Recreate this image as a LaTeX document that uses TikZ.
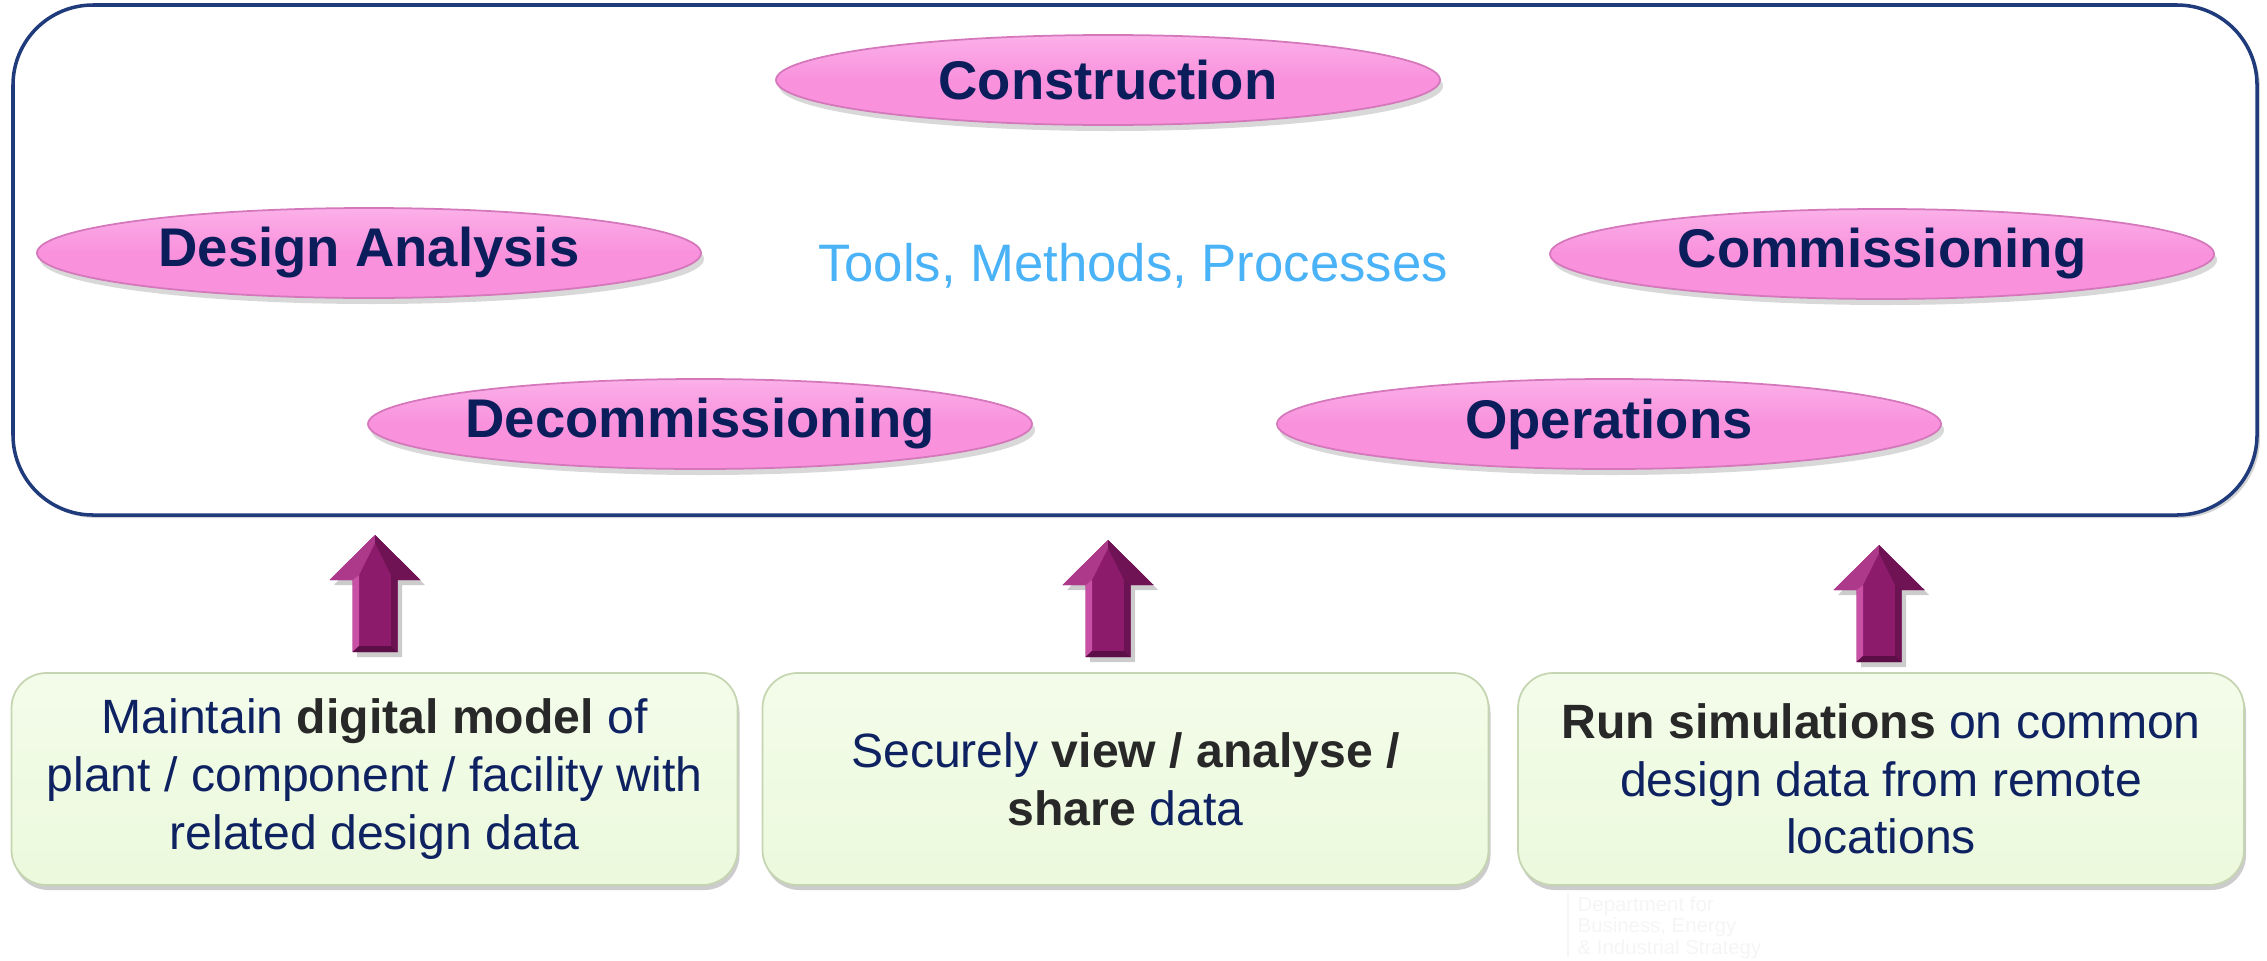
\documentclass[tikz,border=0pt]{standalone}
\usepackage{fontspec}
\setmainfont{Liberation Sans}
\usetikzlibrary{shapes.geometric,shadows}

\definecolor{framenavy}{HTML}{1F3B7B}
\definecolor{stagepink}{HTML}{F991DD}
\definecolor{stagehigh}{HTML}{FBB0E8}
\definecolor{stagerim}{HTML}{D577BB}
\definecolor{stagetext}{HTML}{0B1E5B}
\definecolor{toolblue}{HTML}{4AB2F7}
\definecolor{taskfill}{HTML}{ECF9DC}
\definecolor{taskhigh}{HTML}{F3FCEA}
\definecolor{taskrim}{HTML}{C6D5B1}
\definecolor{tasktext}{HTML}{0E2262}
\definecolor{taskbold}{HTML}{282828}
\definecolor{liftpurple}{HTML}{8C1B6B}
\definecolor{liftlight}{HTML}{C851A6}
\definecolor{liftdark}{HTML}{5C0E47}

\newcommand\taskkey[1]{{\bfseries\color{taskbold}#1}}

\begin{document}
\begin{tikzpicture}[
    stage/.style={ellipse, inner sep=0pt, minimum width=6.64cm, minimum height=0.90cm,
      draw=stagerim, line width=0.5pt,
      top color=stagehigh, bottom color=stagepink, middle color=stagepink,
      drop shadow={opacity=0.3, shadow xshift=0.03cm, shadow yshift=-0.06cm},
      text=stagetext, font=\fontsize{15.5}{18}\selectfont\bfseries},
    task/.style={rectangle, rounded corners=0.35cm, minimum width=7.26cm, minimum height=2.12cm,
      draw=taskrim, line width=0.5pt, top color=taskhigh, bottom color=taskfill,
      drop shadow={opacity=0.4, shadow xshift=0.02cm, shadow yshift=-0.05cm},
      align=center, text=tasktext, font=\fontsize{13.7}{16.4}\selectfont}
  ]
  \useasboundingbox (0,0) rectangle (22.67,9.60);

  % Department mark under the right box
  \draw [black!4, line width=0.4pt] (15.68,0.67) -- (15.68,0.03);%
  \node [anchor=north west, inner sep=0pt, align=left, text=black!4,
    font=\fontsize{5.8}{6.1}\selectfont] (dept) at (15.77,0.64)
    {Department for\\Business, Energy\\\& Industrial Strategy};%

  % Drawing the life cycle frame
  \draw [framenavy, line width=1pt, rounded corners=0.8cm, fill=white,
    drop shadow={opacity=0.35, shadow xshift=0.03cm, shadow yshift=-0.03cm}]
    (0.13,4.45) rectangle (22.57,9.55);%

  % Life cycle stages
  \node [stage] (construction) at (11.08,8.80) {Construction};%
  \node [stage] (design) at (3.69,7.07) {Design Analysis};%
  \node [stage] (commissioning) at (18.82,7.06) {Commissioning};%
  \node [stage] (decommissioning) at (7.00,5.36) {Decommissioning};%
  \node [stage] (operations) at (16.09,5.36) {Operations};%

  % Marking the middle text
  \node [text=toolblue, font=\fontsize{15}{18}\selectfont] (tools) at (11.33,6.94)
    {Tools, Methods, Processes};%

  % Drawing the lifting arrows
  \foreach \ax/\ay in {3.75/4.25, 11.08/4.20, 18.79/4.15}{
    \begin{scope}[shift={(\ax,\ay)}]
      \fill [black, opacity=0.2] (0.04,-0.04) -- (0.50,-0.50) -- (0.27,-0.50) -- (0.27,-1.22)
        -- (-0.18,-1.22) -- (-0.18,-0.50) -- (-0.41,-0.50) -- cycle;%
      \fill [liftpurple] (0,0) -- (0.455,-0.45) -- (0.225,-0.45) -- (0.225,-1.17)
        -- (-0.225,-1.17) -- (-0.225,-0.45) -- (-0.455,-0.45) -- cycle;%
      \fill [liftlight!55!liftpurple] (0,0) -- (-0.455,-0.45) -- (-0.225,-0.45) -- (-0.16,-0.40) -- (0,-0.08) -- cycle;%
      \fill [liftdark!60!liftpurple] (0,0) -- (0.455,-0.45) -- (0.225,-0.45) -- (0.16,-0.40) -- (0,-0.08) -- cycle;%
      \fill [liftlight] (-0.225,-0.45) -- (-0.16,-0.40) -- (-0.16,-1.11) -- (-0.225,-1.17) -- cycle;%
      \fill [liftdark!70!liftpurple] (0.225,-0.45) -- (0.16,-0.40) -- (0.16,-1.11) -- (0.225,-1.17) -- cycle;%
      \fill [liftdark] (-0.225,-1.17) -- (-0.16,-1.11) -- (0.16,-1.11) -- (0.225,-1.17) -- cycle;%
    \end{scope}
  }

  % Capabilities
  \node [task] (model) at (3.745,1.81)
    {Maintain \taskkey{digital model} of\\plant / component / facility with\\related design data};%
  \node [task] (share) at (11.255,1.81)
    {Securely \taskkey{view / analyse /}\\\taskkey{share} data};%
  \node [task] (simulate) at (18.81,1.81)
    {\taskkey{Run simulations} on common\\design data from remote\\locations};%
\end{tikzpicture}
\end{document}
